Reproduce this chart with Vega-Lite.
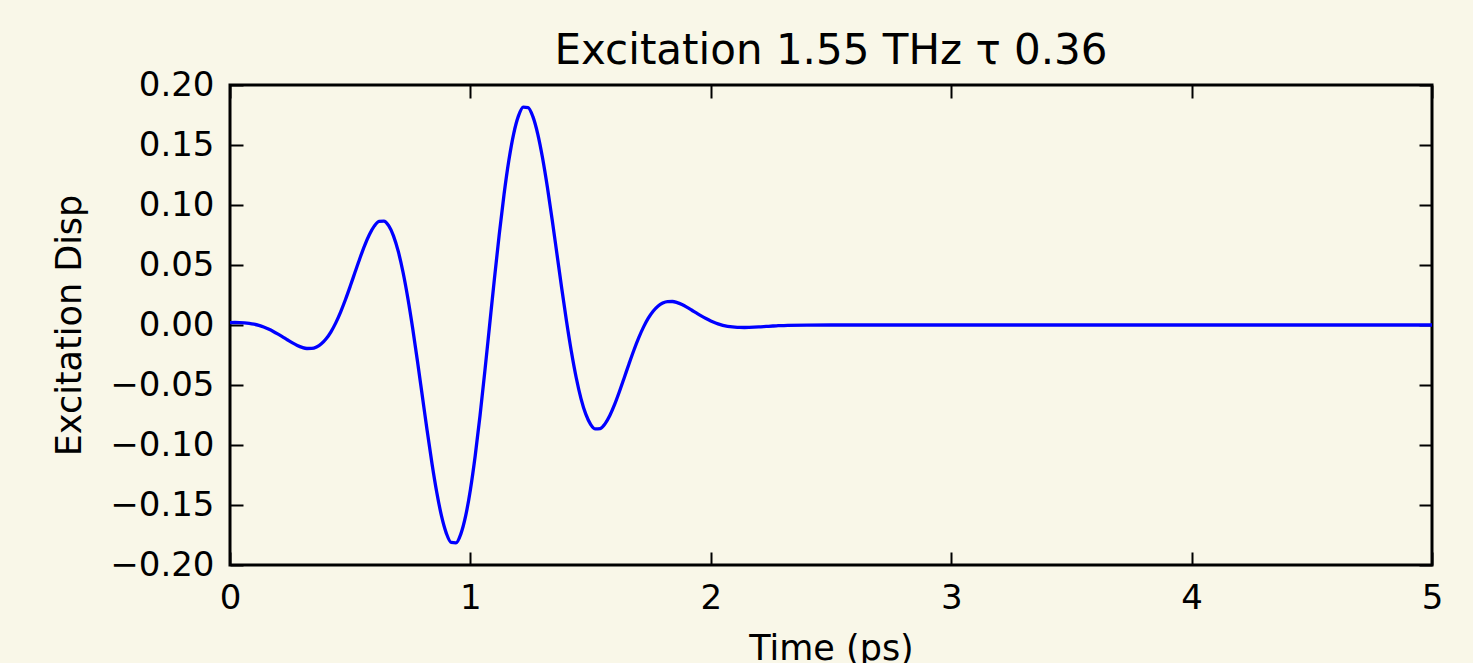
{
  "$schema": "https://vega.github.io/schema/vega-lite/v6.json",
  "width": 1202,
  "height": 480,
  "autosize": {"type": "none"},
  "padding": {"left": 230, "top": 85, "right": 41, "bottom": 98},
  "background": "#f9f7e8",
  "config": {
    "font": "DejaVu Sans",
    "view": {"stroke": "black", "strokeWidth": 3},
    "axis": {"domain": false, "grid": false, "tickColor": "black", "tickWidth": 2, "tickSize": -13, "labelColor": "black", "titleColor": "black", "labelFont": "DejaVu Sans", "titleFont": "DejaVu Sans", "titleFontWeight": "normal"}
  },
  "title": {"text": "Excitation 1.55 THz τ 0.36", "font": "DejaVu Sans", "fontSize": 42, "fontWeight": "normal", "color": "black", "anchor": "middle", "baseline": "alphabetic", "offset": -38},
  "data": {"values": [
    {"t": 0.00, "disp": 0.00201}, {"t": 0.02, "disp": 0.00210}, {"t": 0.04, "disp": 0.00205}, {"t": 0.06, "disp": 0.00182},
    {"t": 0.08, "disp": 0.00136}, {"t": 0.10, "disp": 0.00065}, {"t": 0.12, "disp": -0.00037}, {"t": 0.14, "disp": -0.00172},
    {"t": 0.16, "disp": -0.00339}, {"t": 0.18, "disp": -0.00537}, {"t": 0.20, "disp": -0.00761}, {"t": 0.22, "disp": -0.01003},
    {"t": 0.24, "disp": -0.01252}, {"t": 0.26, "disp": -0.01491}, {"t": 0.28, "disp": -0.01704}, {"t": 0.30, "disp": -0.01867},
    {"t": 0.32, "disp": -0.01958}, {"t": 0.34, "disp": -0.01954}, {"t": 0.36, "disp": -0.01830}, {"t": 0.38, "disp": -0.01566},
    {"t": 0.40, "disp": -0.01148}, {"t": 0.42, "disp": -0.00566}, {"t": 0.44, "disp": 0.00179}, {"t": 0.46, "disp": 0.01076},
    {"t": 0.48, "disp": 0.02102}, {"t": 0.50, "disp": 0.03223}, {"t": 0.52, "disp": 0.04392}, {"t": 0.54, "disp": 0.05546},
    {"t": 0.56, "disp": 0.06622}, {"t": 0.58, "disp": 0.07544}, {"t": 0.60, "disp": 0.08240}, {"t": 0.62, "disp": 0.08634},
    {"t": 0.64, "disp": 0.08661}, {"t": 0.66, "disp": 0.08274}, {"t": 0.68, "disp": 0.07433}, {"t": 0.70, "disp": 0.06129},
    {"t": 0.72, "disp": 0.04375}, {"t": 0.74, "disp": 0.02212}, {"t": 0.76, "disp": -0.00291}, {"t": 0.78, "disp": -0.03040},
    {"t": 0.80, "disp": -0.05919}, {"t": 0.82, "disp": -0.08792}, {"t": 0.84, "disp": -0.11515}, {"t": 0.86, "disp": -0.13937},
    {"t": 0.88, "disp": -0.15931}, {"t": 0.90, "disp": -0.17360}, {"t": 0.92, "disp": -0.18124}, {"t": 0.94, "disp": -0.18156},
    {"t": 0.96, "disp": -0.17424}, {"t": 0.98, "disp": -0.15933}, {"t": 1.00, "disp": -0.13722}, {"t": 1.02, "disp": -0.10894},
    {"t": 1.04, "disp": -0.07557}, {"t": 1.06, "disp": -0.03870}, {"t": 1.08, "disp": 0.0},
    {"t": 1.10, "disp": 0.03870}, {"t": 1.12, "disp": 0.07557}, {"t": 1.14, "disp": 0.10894}, {"t": 1.16, "disp": 0.13722},
    {"t": 1.18, "disp": 0.15933}, {"t": 1.20, "disp": 0.17424}, {"t": 1.22, "disp": 0.18156}, {"t": 1.24, "disp": 0.18124},
    {"t": 1.26, "disp": 0.17360}, {"t": 1.28, "disp": 0.15931}, {"t": 1.30, "disp": 0.13937}, {"t": 1.32, "disp": 0.11515},
    {"t": 1.34, "disp": 0.08792}, {"t": 1.36, "disp": 0.05919}, {"t": 1.38, "disp": 0.03040}, {"t": 1.40, "disp": 0.00291},
    {"t": 1.42, "disp": -0.02212}, {"t": 1.44, "disp": -0.04375}, {"t": 1.46, "disp": -0.06129}, {"t": 1.48, "disp": -0.07433},
    {"t": 1.50, "disp": -0.08274}, {"t": 1.52, "disp": -0.08661}, {"t": 1.54, "disp": -0.08634}, {"t": 1.56, "disp": -0.08240},
    {"t": 1.58, "disp": -0.07544}, {"t": 1.60, "disp": -0.06622}, {"t": 1.62, "disp": -0.05546}, {"t": 1.64, "disp": -0.04392},
    {"t": 1.66, "disp": -0.03223}, {"t": 1.68, "disp": -0.02102}, {"t": 1.70, "disp": -0.01076}, {"t": 1.72, "disp": -0.00179},
    {"t": 1.74, "disp": 0.00566}, {"t": 1.76, "disp": 0.01148}, {"t": 1.78, "disp": 0.01566}, {"t": 1.80, "disp": 0.01830},
    {"t": 1.82, "disp": 0.01954}, {"t": 1.84, "disp": 0.01958}, {"t": 1.86, "disp": 0.01867}, {"t": 1.88, "disp": 0.01704},
    {"t": 1.90, "disp": 0.01491}, {"t": 1.92, "disp": 0.01252}, {"t": 1.94, "disp": 0.01003}, {"t": 1.96, "disp": 0.00761},
    {"t": 1.98, "disp": 0.00537}, {"t": 2.00, "disp": 0.00339}, {"t": 2.02, "disp": 0.00172}, {"t": 2.04, "disp": 0.00037},
    {"t": 2.06, "disp": -0.00065}, {"t": 2.08, "disp": -0.00136}, {"t": 2.10, "disp": -0.00182}, {"t": 2.12, "disp": -0.00205},
    {"t": 2.14, "disp": -0.00210}, {"t": 2.16, "disp": -0.00201}, {"t": 2.18, "disp": -0.00184}, {"t": 2.20, "disp": -0.00160},
    {"t": 2.22, "disp": -0.00134}, {"t": 2.24, "disp": -0.00108}, {"t": 2.26, "disp": -0.00082}, {"t": 2.28, "disp": -0.00060},
    {"t": 2.32, "disp": -0.00025}, {"t": 2.40, "disp": -0.00003}, {"t": 2.60, "disp": 0.0}, {"t": 3.00, "disp": 0.0},
    {"t": 4.00, "disp": 0.0}, {"t": 5.00, "disp": 0.0}
  ]},
  "layer": [
    {
      "mark": {"type": "line", "color": "#0000ff", "strokeWidth": 3.3, "interpolate": "monotone", "clip": true},
      "encoding": {
        "x": {"field": "t", "type": "quantitative", "scale": {"domain": [0, 5], "nice": false, "zero": false},
          "axis": {"orient": "bottom", "values": [0, 1, 2, 3, 4, 5], "format": "d", "labelFontSize": 34, "labelPadding": 29, "labelFlush": false, "labelOverlap": false, "title": "Time (ps)", "titleFontSize": 35, "titleBaseline": "alphabetic", "titleY": 94}},
        "y": {"field": "disp", "type": "quantitative", "scale": {"domain": [-0.2, 0.2], "nice": false, "zero": false},
          "axis": {"orient": "left", "values": [-0.2, -0.15, -0.1, -0.05, 0, 0.05, 0.1, 0.15, 0.2], "format": ".2f", "labelFontSize": 34, "labelPadding": 29, "labelOverlap": false, "labelFlush": false, "title": "Excitation Disp", "titleFontSize": 35, "titleBaseline": "alphabetic", "titleX": -150, "titleY": 240, "titleAngle": -90}}
      }
    },
    {
      "mark": {"type": "line", "opacity": 0},
      "encoding": {
        "x": {"field": "t", "type": "quantitative", "axis": {"orient": "top", "values": [0, 1, 2, 3, 4, 5], "labels": false, "title": null}},
        "y": {"field": "disp", "type": "quantitative", "axis": {"orient": "right", "values": [-0.2, -0.15, -0.1, -0.05, 0, 0.05, 0.1, 0.15, 0.2], "labels": false, "title": null}}
      }
    }
  ]
}
